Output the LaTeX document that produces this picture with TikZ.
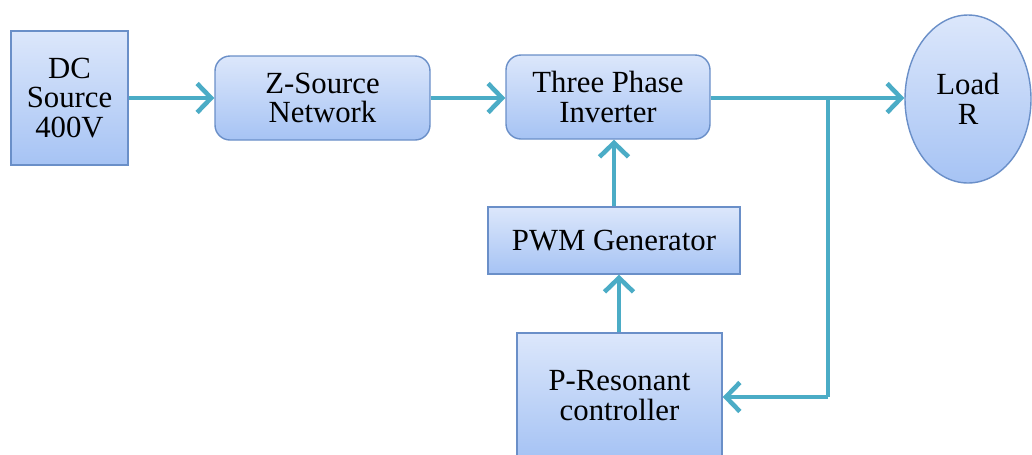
\documentclass[tikz,border=0pt]{standalone}
\usepackage{fontspec}
\setmainfont{Liberation Serif}
\usetikzlibrary{arrows.meta}
\usetikzlibrary{shapes.geometric}

\definecolor{boxtop}{HTML}{DCE7FB}
\definecolor{boxbot}{HTML}{A6C3F4}
\definecolor{boxline}{HTML}{6A8FC8}
\definecolor{wire}{HTML}{4BACC6}

\begin{document}
\begin{tikzpicture}[
	blk/.style={draw=boxline, line width=0.8pt, top color=boxtop, bottom color=boxbot,
		align=center, inner sep=0pt, font=\fontsize{17.5}{16.8}\selectfont},
	rblk/.style={blk, rounded corners=0.3cm},
	wire/.style={draw=wire, line width=2.6pt, -{Straight Barb[length=2.8mm,width=5.8mm]}}
	]
	\useasboundingbox (0,0) rectangle (20.64,-9.08);	%page frame

	%blocks
	\node[blk, minimum width=2.34cm, minimum height=2.68cm] (dc) at (1.39,-1.96) {DC\\Source\\400V};
	\node[rblk, minimum width=4.3cm, minimum height=1.68cm] (zsrc) at (6.45,-1.96) {Z-Source\\Network};
	\node[rblk, minimum width=4.08cm, minimum height=1.68cm] (inv) at (12.16,-1.94) {Three Phase\\Inverter};
	\node[blk, ellipse, minimum width=2.52cm, minimum height=3.36cm] (load) at (19.36,-1.98) {Load\\R};
	\node[blk, minimum width=5.04cm, minimum height=1.34cm] (pwm) at (12.28,-4.81) {PWM Generator};
	\node[blk, minimum width=4.1cm, minimum height=2.5cm] (pr) at (12.39,-7.91) {P-Resonant\\controller};

	%feedback corner
	\coordinate (tap) at (16.56,-1.96);
	\coordinate (fb) at (16.56,-7.94);

	%connectors
	\draw[wire] (dc.east |- 0,-1.96) -- (zsrc.west |- 0,-1.96);
	\draw[wire] (zsrc.east |- 0,-1.96) -- (inv.west |- 0,-1.96);
	\draw[wire] (inv.east |- tap) -- (load.west |- tap);
	\draw[wire, -] (tap) -- (fb);
	\draw[wire] (fb) -- (pr.east |- fb);
	\draw[wire] (pr.north -| 12.38,0) -- (pwm.south -| 12.38,0);
	\draw[wire] (pwm.north) -- (pwm.north |- inv.south);
\end{tikzpicture}
\end{document}
